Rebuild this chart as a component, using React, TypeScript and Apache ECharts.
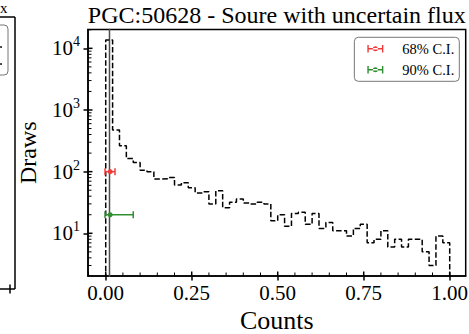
import React, { useEffect, useRef } from 'react';
import * as echarts from 'echarts';

const TITLE = 'PGC:50628 - Soure with uncertain flux';
const X_LABEL = 'Counts';
const Y_LABEL = 'Draws';

const BIN_START = 0;
const BIN_WIDTH = 0.02;
const histCounts = [
  13600, 474, 262, 163, 141, 105, 100, 76, 77, 80,
  61, 66, 55, 45, 47, 30, 49, 26, 32, 36,
  31, 30, 32, 30, 16, 20, 13, 21, 22, 14,
  21, 12, 15, 11, 11, 9, 12, 14, 7, 8,
  11, 6, 8, 6, 8, 8, 5, 3, 9, 7,
];

const refValue = 0.011;

const ciLevels = ['68% C.I.', '90% C.I.'];
const ciCenter = [0.013, 0.013];
const ciLow = [-0.002, -0.002];
const ciHigh = [0.027, 0.08];
const ciY = [100, 20];
const ciColors = ['#f03a3a', '#2f8f2f'];

const xTicks = [0, 0.25, 0.5, 0.75, 1];
const xMinorTicks = [-0.05, 0.05, 0.1, 0.15, 0.2, 0.3, 0.35, 0.4, 0.45, 0.55, 0.6, 0.65, 0.7, 0.8, 0.85, 0.9, 0.95, 1.05];
const yTicks = [10, 100, 1000, 10000];
const yMinorTicks = [3, 4, 5, 6, 7, 8, 9, 20, 30, 40, 50, 60, 70, 80, 90, 200, 300, 400, 500, 600, 700, 800, 900, 2000, 3000, 4000, 5000, 6000, 7000, 8000, 9000, 20000];

const X_MIN = -0.0515;
const X_MAX = 1.0465;
const Y_MIN = 2.03;
const Y_MAX = 20200;

const FONT = 'Liberation Serif';

const ICON = 'path://M0,3.1H16V4.5H0Z M0,0H1.4V7.6H0Z M14.6,0H16V7.6H14.6Z M5.5,3.8a2.5,2.5 0 1,0 5,0a2.5,2.5 0 1,0 -5,0Z';

export default function App() {
  const ref = useRef<HTMLDivElement>(null);
  useEffect(() => {
    if (!ref.current) return;
    const chart = echarts.init(ref.current, undefined, { renderer: 'svg' });

    const histPoints: number[][] = [[BIN_START, 1]];
    histCounts.forEach((c, i) => histPoints.push([BIN_START + i * BIN_WIDTH, c]));
    histPoints.push([BIN_START + histCounts.length * BIN_WIDTH, 1]);

    const yTickData = [
      ...yTicks.map((v) => [X_MIN, v, 4.5, 1.5]),
      ...yMinorTicks.filter((v) => v >= Y_MIN && v <= Y_MAX).map((v) => [X_MIN, v, 3.5, 1]),
    ];
    const xTickData = [
      ...xTicks.map((v) => [v, Y_MIN, 4.5, 1.5]),
      ...xMinorTicks.filter((v) => v >= X_MIN && v <= X_MAX).map((v) => [v, Y_MIN, 3.5, 1]),
    ];

    const option: any = {
      animation: false,
      title: {
        text: TITLE,
        left: 276.8,
        top: 3,
        textAlign: 'center',
        padding: 0,
        textStyle: { fontFamily: FONT, fontSize: 24, fontWeight: 'normal', color: '#000' },
      },
      legend: {
        data: ciLevels.map((name) => ({ name, icon: ICON })),
        orient: 'vertical',
        right: 9.7,
        top: 37.3,
        itemWidth: 16,
        itemHeight: 7.6,
        itemGap: 6,
        padding: [4, 5, 4, 13],
        backgroundColor: '#fff',
        borderColor: '#777',
        borderWidth: 1,
        borderRadius: 4,
        selectedMode: false,
        textStyle: { fontFamily: FONT, fontSize: 14.5, color: '#000', padding: [0, 0, 0, 14] },
      },
      grid: {
        left: 88,
        right: 3.3,
        top: 29.5,
        bottom: 58,
        show: true,
        borderColor: '#000',
        borderWidth: 1.5,
        backgroundColor: 'transparent',
        containLabel: false,
        outerBoundsMode: 'none',
      },
      xAxis: {
        type: 'value',
        min: X_MIN,
        max: X_MAX,
        position: 'bottom',
        axisLine: { show: true, onZero: false, lineStyle: { color: '#000', width: 1.5 } },
        axisTick: { show: true, inside: false, length: 4.5, customValues: xTicks, lineStyle: { color: '#000', width: 1.5 } },
        axisLabel: {
          customValues: xTicks,
          formatter: (v: number) => v.toFixed(2),
          margin: 6,
          fontFamily: FONT,
          fontSize: 21,
          color: '#000',
        },
        splitLine: { show: false },
        minorTick: { show: false },
        name: X_LABEL,
        nameLocation: 'middle',
        nameGap: 30,
        nameTextStyle: { fontFamily: FONT, fontSize: 26, lineHeight: 26, color: '#000' },
      },
      yAxis: {
        type: 'log',
        logBase: 10,
        min: Y_MIN,
        max: Y_MAX,
        axisLine: { show: true, onZero: false, lineStyle: { color: '#000', width: 1.5 } },
        axisTick: { show: true, inside: false, length: 4.5, customValues: yTicks, lineStyle: { color: '#000', width: 1.5 } },
        axisLabel: {
          customValues: yTicks,
          formatter: (v: number) => '{b|10}{sup|' + Math.round(Math.log10(v)) + '}',
          margin: 8,
          color: '#000',
          rich: {
            b: { fontFamily: FONT, fontSize: 21, lineHeight: 27, color: '#000' },
            sup: { fontFamily: FONT, fontSize: 14, lineHeight: 14, verticalAlign: 'top', color: '#000' },
          },
        },
        splitLine: { show: false },
        minorTick: { show: false },
        name: Y_LABEL,
        nameLocation: 'middle',
        nameGap: 48,
        nameRotate: 90,
        nameTextStyle: { fontFamily: FONT, fontSize: 24, color: '#000' },
      },
      graphic: [
        { type: 'text', x: 0, y: 0, style: { text: 'x', fontFamily: FONT, fontSize: 15, fill: '#000', textAlign: 'left', textVerticalAlign: 'top' } },
        { type: 'line', shape: { x1: -5, y1: 17, x2: 15, y2: 17 }, style: { stroke: '#000', lineWidth: 1.5 } },
        { type: 'line', shape: { x1: 15, y1: 17, x2: 15, y2: 289 }, style: { stroke: '#000', lineWidth: 1.5 } },
        { type: 'line', shape: { x1: -5, y1: 289, x2: 15, y2: 289 }, style: { stroke: '#000', lineWidth: 1.5 } },
        { type: 'line', shape: { x1: 10, y1: 284.5, x2: 10, y2: 293.5 }, style: { stroke: '#000', lineWidth: 1.5 } },
        { type: 'rect', shape: { x: -100, y: 25, width: 108, height: 50, r: 4 }, style: { fill: '#fff', stroke: '#777', lineWidth: 1 } },
        { type: 'circle', shape: { cx: 1, cy: 47, r: 0.9 }, style: { fill: '#000' } },
        { type: 'circle', shape: { cx: 1, cy: 64, r: 0.9 }, style: { fill: '#000' } },
      ],
      series: [
        {
          type: 'line',
          data: histPoints,
          step: 'end',
          showSymbol: false,
          symbol: 'none',
          silent: true,
          clip: true,
          lineStyle: { color: '#000', width: 1.5, type: [5.5, 2.4] },
          z: 3,
        },
        {
          type: 'line',
          data: [[refValue, 1], [refValue, 1e6]],
          showSymbol: false,
          symbol: 'none',
          silent: true,
          clip: true,
          lineStyle: { color: '#4d4d4d', width: 1.5 },
          z: 2,
        },
        {
          type: 'custom',
          silent: true,
          data: yTickData,
          encode: { x: 0, y: 1 },
          z: 6,
          renderItem: (params: any, api: any) => {
            const p = api.coord([api.value(0), api.value(1)]);
            const len = api.value(2);
            return {
              type: 'line',
              shape: { x1: p[0], y1: p[1], x2: p[0] + len, y2: p[1] },
              style: { stroke: '#000', lineWidth: api.value(3) },
            };
          },
        },
        {
          type: 'custom',
          silent: true,
          data: xTickData,
          encode: { x: 0, y: 1 },
          z: 6,
          renderItem: (params: any, api: any) => {
            const p = api.coord([api.value(0), api.value(1)]);
            const len = api.value(2);
            return {
              type: 'line',
              shape: { x1: p[0], y1: p[1], x2: p[0], y2: p[1] - len },
              style: { stroke: '#000', lineWidth: api.value(3) },
            };
          },
        },
        ...ciLevels.map((name, i) => ({
          type: 'custom',
          name,
          data: [[ciCenter[i], ciLow[i], ciHigh[i], ciY[i]]],
          encode: { x: [0, 1, 2], y: 3 },
          itemStyle: { color: ciColors[i] },
          z: 8,
          renderItem: (params: any, api: any) => {
            const y = api.value(3);
            const c = api.coord([api.value(0), y]);
            const l = api.coord([api.value(1), y]);
            const h = api.coord([api.value(2), y]);
            const col = ciColors[i];
            const st = { stroke: col, lineWidth: 1.5 };
            return {
              type: 'group',
              children: [
                { type: 'line', shape: { x1: l[0], y1: l[1], x2: h[0], y2: h[1] }, style: st },
                { type: 'line', shape: { x1: l[0], y1: l[1] - 3.5, x2: l[0], y2: l[1] + 3.5 }, style: st },
                { type: 'line', shape: { x1: h[0], y1: h[1] - 3.5, x2: h[0], y2: h[1] + 3.5 }, style: st },
                { type: 'circle', shape: { cx: c[0], cy: c[1], r: 2.5 }, style: { fill: col } },
              ],
            };
          },
        })),
      ],
    };

    chart.setOption(option);
    return () => chart.dispose();
  }, []);

  return (
    <div
      ref={ref}
      style={{ position: 'fixed', left: 0, top: 0, width: 469, height: 334, background: '#fff' }}
    />
  );
}
